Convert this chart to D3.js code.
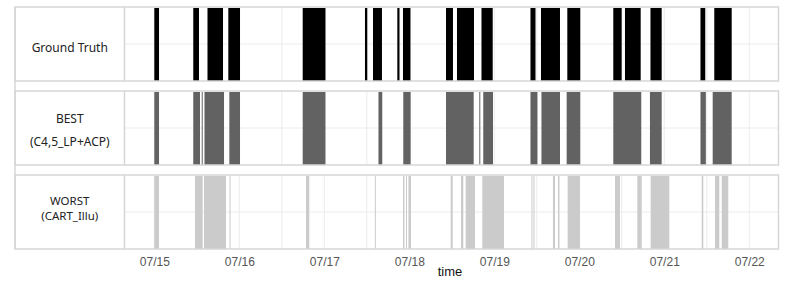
<!DOCTYPE html>
<html>
<head>
<meta charset="utf-8">
<script src="https://cdn.jsdelivr.net/npm/d3@7"></script>
<style>
  body { margin: 0; background: #fff; }
  svg { display: block; }
</style>
</head>
<body>
<div id="plot"></div>
<script>
// panels, top to bottom
var panels = ['Ground Truth', 'BEST', 'WORST'];
var panelLabels = [['Ground Truth'], ['BEST', '(C4,5_LP+ACP)'], ['WORST', '(CART_Illu)']];
var panelColors = ['#000000', '#626262', '#cbcbcb'];

// event intervals [start, end]
var truthEvents = [
  ['07/15 00:00','07/15 01:20'], ['07/15 11:00','07/15 12:37'], ['07/15 15:01','07/15 19:24'],
  ['07/15 20:54','07/16 00:12'], ['07/16 17:54','07/17 00:20'], ['07/17 11:29','07/17 12:08'],
  ['07/17 13:45','07/17 16:17'], ['07/17 20:37','07/17 21:14'], ['07/17 22:13','07/18 00:20'],
  ['07/18 10:22','07/18 12:20'], ['07/18 13:28','07/18 18:16'], ['07/18 20:23','07/18 23:33'],
  ['07/19 10:13','07/19 11:38'], ['07/19 13:11','07/19 18:33'], ['07/19 20:37','07/20 00:17'],
  ['07/20 09:36','07/20 11:58'], ['07/20 12:54','07/20 17:20'], ['07/20 20:06','07/20 23:16'],
  ['07/21 10:13','07/21 11:34'], ['07/21 14:07','07/21 19:02']
];
var bestEvents = [
  ['07/15 00:00','07/15 01:20'], ['07/15 11:00','07/15 12:54'], ['07/15 13:23','07/15 13:40'],
  ['07/15 14:10','07/15 19:41'], ['07/15 21:11','07/16 00:12'], ['07/16 17:54','07/17 00:20'],
  ['07/17 15:18','07/17 16:22'], ['07/17 22:18','07/18 00:23'], ['07/18 10:22','07/18 18:11'],
  ['07/18 19:46','07/18 20:03'], ['07/18 20:53','07/18 23:38'], ['07/19 10:13','07/19 12:11'],
  ['07/19 13:19','07/19 18:33'], ['07/19 20:26','07/20 00:17'], ['07/20 09:36','07/20 17:30'],
  ['07/20 19:57','07/20 23:16'], ['07/21 10:13','07/21 11:44'], ['07/21 13:40','07/21 19:02']
];
var worstEvents = [
  ['07/15 00:00','07/15 01:20'], ['07/15 11:29','07/15 13:40'], ['07/15 14:02','07/15 20:14'],
  ['07/15 21:14','07/15 21:31'], ['07/16 18:50','07/16 19:46'], ['07/17 14:16','07/17 14:32'],
  ['07/17 22:13','07/17 22:38'], ['07/17 23:04','07/17 23:21'], ['07/17 23:46','07/18 00:29'],
  ['07/18 11:41','07/18 12:15'], ['07/18 14:36','07/18 15:15'], ['07/18 15:55','07/18 18:33'],
  ['07/18 20:37','07/19 02:44'], ['07/19 10:30','07/19 10:47'], ['07/19 11:04','07/19 11:21'],
  ['07/19 16:34','07/19 17:08'], ['07/19 17:59','07/19 18:24'], ['07/19 20:43','07/20 00:12'],
  ['07/20 10:05','07/20 11:29'], ['07/20 16:23','07/20 17:37'], ['07/20 20:09','07/21 01:25'],
  ['07/21 10:34','07/21 11:01'], ['07/21 14:19','07/21 15:32'], ['07/21 16:13','07/21 18:04']
];
var allEvents = [truthEvents, bestEvents, worstEvents];

// time range of the x axis
var timeRange = ['07/14 15:35', '07/22 08:15'];
var axisTitle = 'time';

var width = 800, height = 287;
var frameLeft = 15, plotLeft = 124.5, plotRight = 778.5;

var parse = d3.timeParse('%m/%d %H:%M');

var svg = d3.select('#plot').append('svg')
    .attr('width', width)
    .attr('height', height);

var x = d3.scaleTime()
    .domain(timeRange.map(parse))
    .range([plotLeft, plotRight]);

var y = d3.scaleBand()
    .domain(panels)
    .range([7, 249])
    .paddingInner(0.119);

var gridColor = '#ececec';
var borderColor = '#d6d6d6';

panels.forEach(function(p, i){
    var g = svg.append('g').attr('class', 'panel');
    var top = y(p), bh = y.bandwidth();

    // grid: half-days (minor) and days (major)
    g.selectAll('.minor')
        .data(x.ticks(d3.timeHour.every(12)))
        .enter().append('line')
        .attr('x1', function(d){ return x(d); })
        .attr('x2', function(d){ return x(d); })
        .attr('y1', top).attr('y2', top + bh)
        .attr('stroke', gridColor)
        .attr('stroke-width', 1);

    g.append('line')
        .attr('x1', plotLeft).attr('x2', plotRight)
        .attr('y1', top + bh / 2).attr('y2', top + bh / 2)
        .attr('stroke', gridColor)
        .attr('stroke-width', 1);

    // event bars
    g.selectAll('.bar')
        .data(allEvents[i])
        .enter().append('rect')
        .attr('class', 'bar')
        .attr('x', function(d){ return x(parse(d[0])); })
        .attr('width', function(d){ return Math.max(1, x(parse(d[1])) - x(parse(d[0]))); })
        .attr('y', top + 1)
        .attr('height', bh - 1)
        .attr('fill', panelColors[i]);

    // panel frame
    g.append('rect')
        .attr('x', frameLeft)
        .attr('y', top)
        .attr('width', plotRight - frameLeft)
        .attr('height', bh)
        .attr('fill', 'none')
        .attr('stroke', borderColor)
        .attr('stroke-width', 1.5);

    g.append('line')
        .attr('x1', plotLeft).attr('x2', plotLeft)
        .attr('y1', top).attr('y2', top + bh)
        .attr('stroke', borderColor)
        .attr('stroke-width', 1.5);

    // panel label
    var lines = panelLabels[i];
    var offsets = lines.length == 1 ? [7.5] : (i == 1 ? [-5.5, 17.5] : [-7, 8]);
    var t = g.append('text')
        .attr('text-anchor', 'middle')
        .attr('font-family', '"Noto Sans", "Open Sans", sans-serif')
        .attr('font-size', i == 2 ? 11.5 : 12)
        .attr('fill', '#222');
    lines.forEach(function(l, k){
        t.append('tspan')
            .attr('x', (frameLeft + plotLeft) / 2)
            .attr('y', top + bh / 2 + offsets[k])
            .text(l);
    });
});

// left frame line running through the gaps
svg.append('line')
    .attr('x1', frameLeft).attr('x2', frameLeft)
    .attr('y1', y(panels[0])).attr('y2', y(panels[2]) + y.bandwidth())
    .attr('stroke', borderColor)
    .attr('stroke-width', 1.5);

// x axis
var xAxis = d3.axisBottom(x)
    .ticks(d3.timeDay.every(1))
    .tickFormat(d3.timeFormat('%m/%d'))
    .tickSize(0)
    .tickPadding(8);

var ax = svg.append('g')
    .attr('transform', 'translate(0,' + (y(panels[2]) + y.bandwidth()) + ')')
    .call(xAxis);
ax.select('.domain').remove();
ax.selectAll('text')
    .attr('font-family', '"Liberation Sans", Arial, sans-serif')
    .attr('font-size', 12)
    .attr('fill', '#555');

svg.append('text')
    .attr('x', 450)
    .attr('y', 276)
    .attr('text-anchor', 'middle')
    .attr('font-family', '"Liberation Sans", Arial, sans-serif')
    .attr('font-size', 13)
    .attr('fill', '#111')
    .text(axisTitle);
</script>
</body>
</html>
